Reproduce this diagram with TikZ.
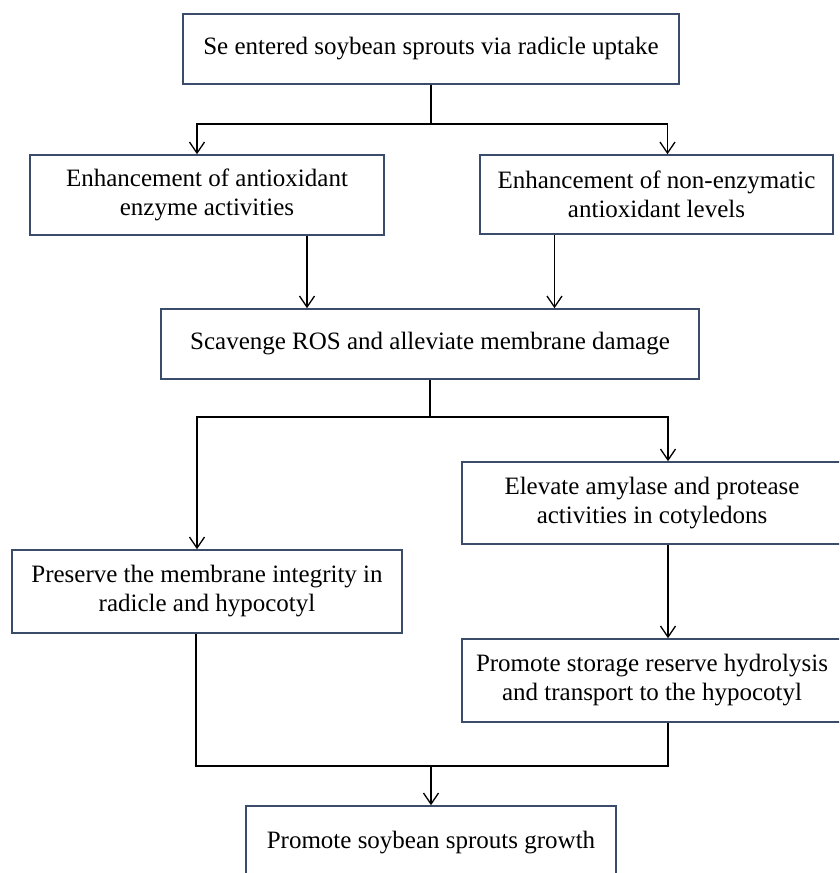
\documentclass[tikz,border=0pt]{standalone}
\usepackage{fontspec}
\setmainfont{Liberation Serif}
\usetikzlibrary{arrows.meta,positioning}
\definecolor{boxline}{RGB}{58,76,106}
\tikzset{
  every node/.style={
    font=\fontsize{25}{29}\selectfont
  },
  stepbox/.style n args={2}{
    shape=rectangle,
    draw=boxline,
    line width=1.6pt,
    minimum width=#1,
    minimum height=#2,
    inner sep=0pt,
    align=center
  },
  link/.style={
    draw=black,
    line width=1.3pt
  },
  flow/.style={
    link,
    -{Straight Barb[length=11pt,width=15pt]}
  }
}

\begin{document}
\begin{tikzpicture}[x=1pt,y=-1pt]
\useasboundingbox (0,0) rectangle (839,873);
\clip (0,0) rectangle (839,873);

\node [stepbox={496pt}{70pt}] (uptake) at (431,49)
  {Se entered soybean sprouts via radicle uptake};
\node [stepbox={354pt}{80pt}] (enzyme) at (207,195)
  {Enhancement of antioxidant\\enzyme activities};
\node [stepbox={353pt}{79pt}] (nonenz) at (656.5,194.5)
  {Enhancement of non-enzymatic\\antioxidant levels};
\node [stepbox={538pt}{70pt}] (ros) at (430,344)
  {Scavenge ROS and alleviate membrane damage};
\node [stepbox={380pt}{82pt}] (amylase) at (652,503)
  {Elevate amylase and protease\\activities in cotyledons};
\node [stepbox={390pt}{83pt}] (membrane) at (207,591.5)
  {Preserve the membrane integrity in\\radicle and hypocotyl};
\node [stepbox={380pt}{83pt}] (reserve) at (652,680.5)
  {Promote storage reserve hydrolysis\\and transport to the hypocotyl};
\node [stepbox={370pt}{74pt}] (growth) at (431,843)
  {Promote soybean sprouts growth};

\coordinate (split1) at (431,124);
\coordinate (split2) at (430,417);
\coordinate (merge) at (431,766);

\draw [link] (uptake.south) -- (split1);
\draw [flow] (split1) -| ([xshift=-10pt]enzyme.north);
\draw [flow] (split1) -| ([xshift=11pt]nonenz.north);

\draw [flow] ([xshift=100pt]enzyme.south) -- ([xshift=100pt]enzyme.south |- ros.north);
\draw [flow] ([xshift=-102pt]nonenz.south) -- ([xshift=-102pt]nonenz.south |- ros.north);

\draw [link] (ros.south) -- (split2);
\draw [flow] (split2) -| ([xshift=-10pt]membrane.north);
\draw [flow] (split2) -| ([xshift=16pt]amylase.north);

\draw [flow] ([xshift=16pt]amylase.south) -- ([xshift=16pt]reserve.north);

\draw [link] ([xshift=-11pt]membrane.south) |- (merge) -| ([xshift=16pt]reserve.south);
\draw [flow] (merge) -- (growth.north);

\end{tikzpicture}
\end{document}
